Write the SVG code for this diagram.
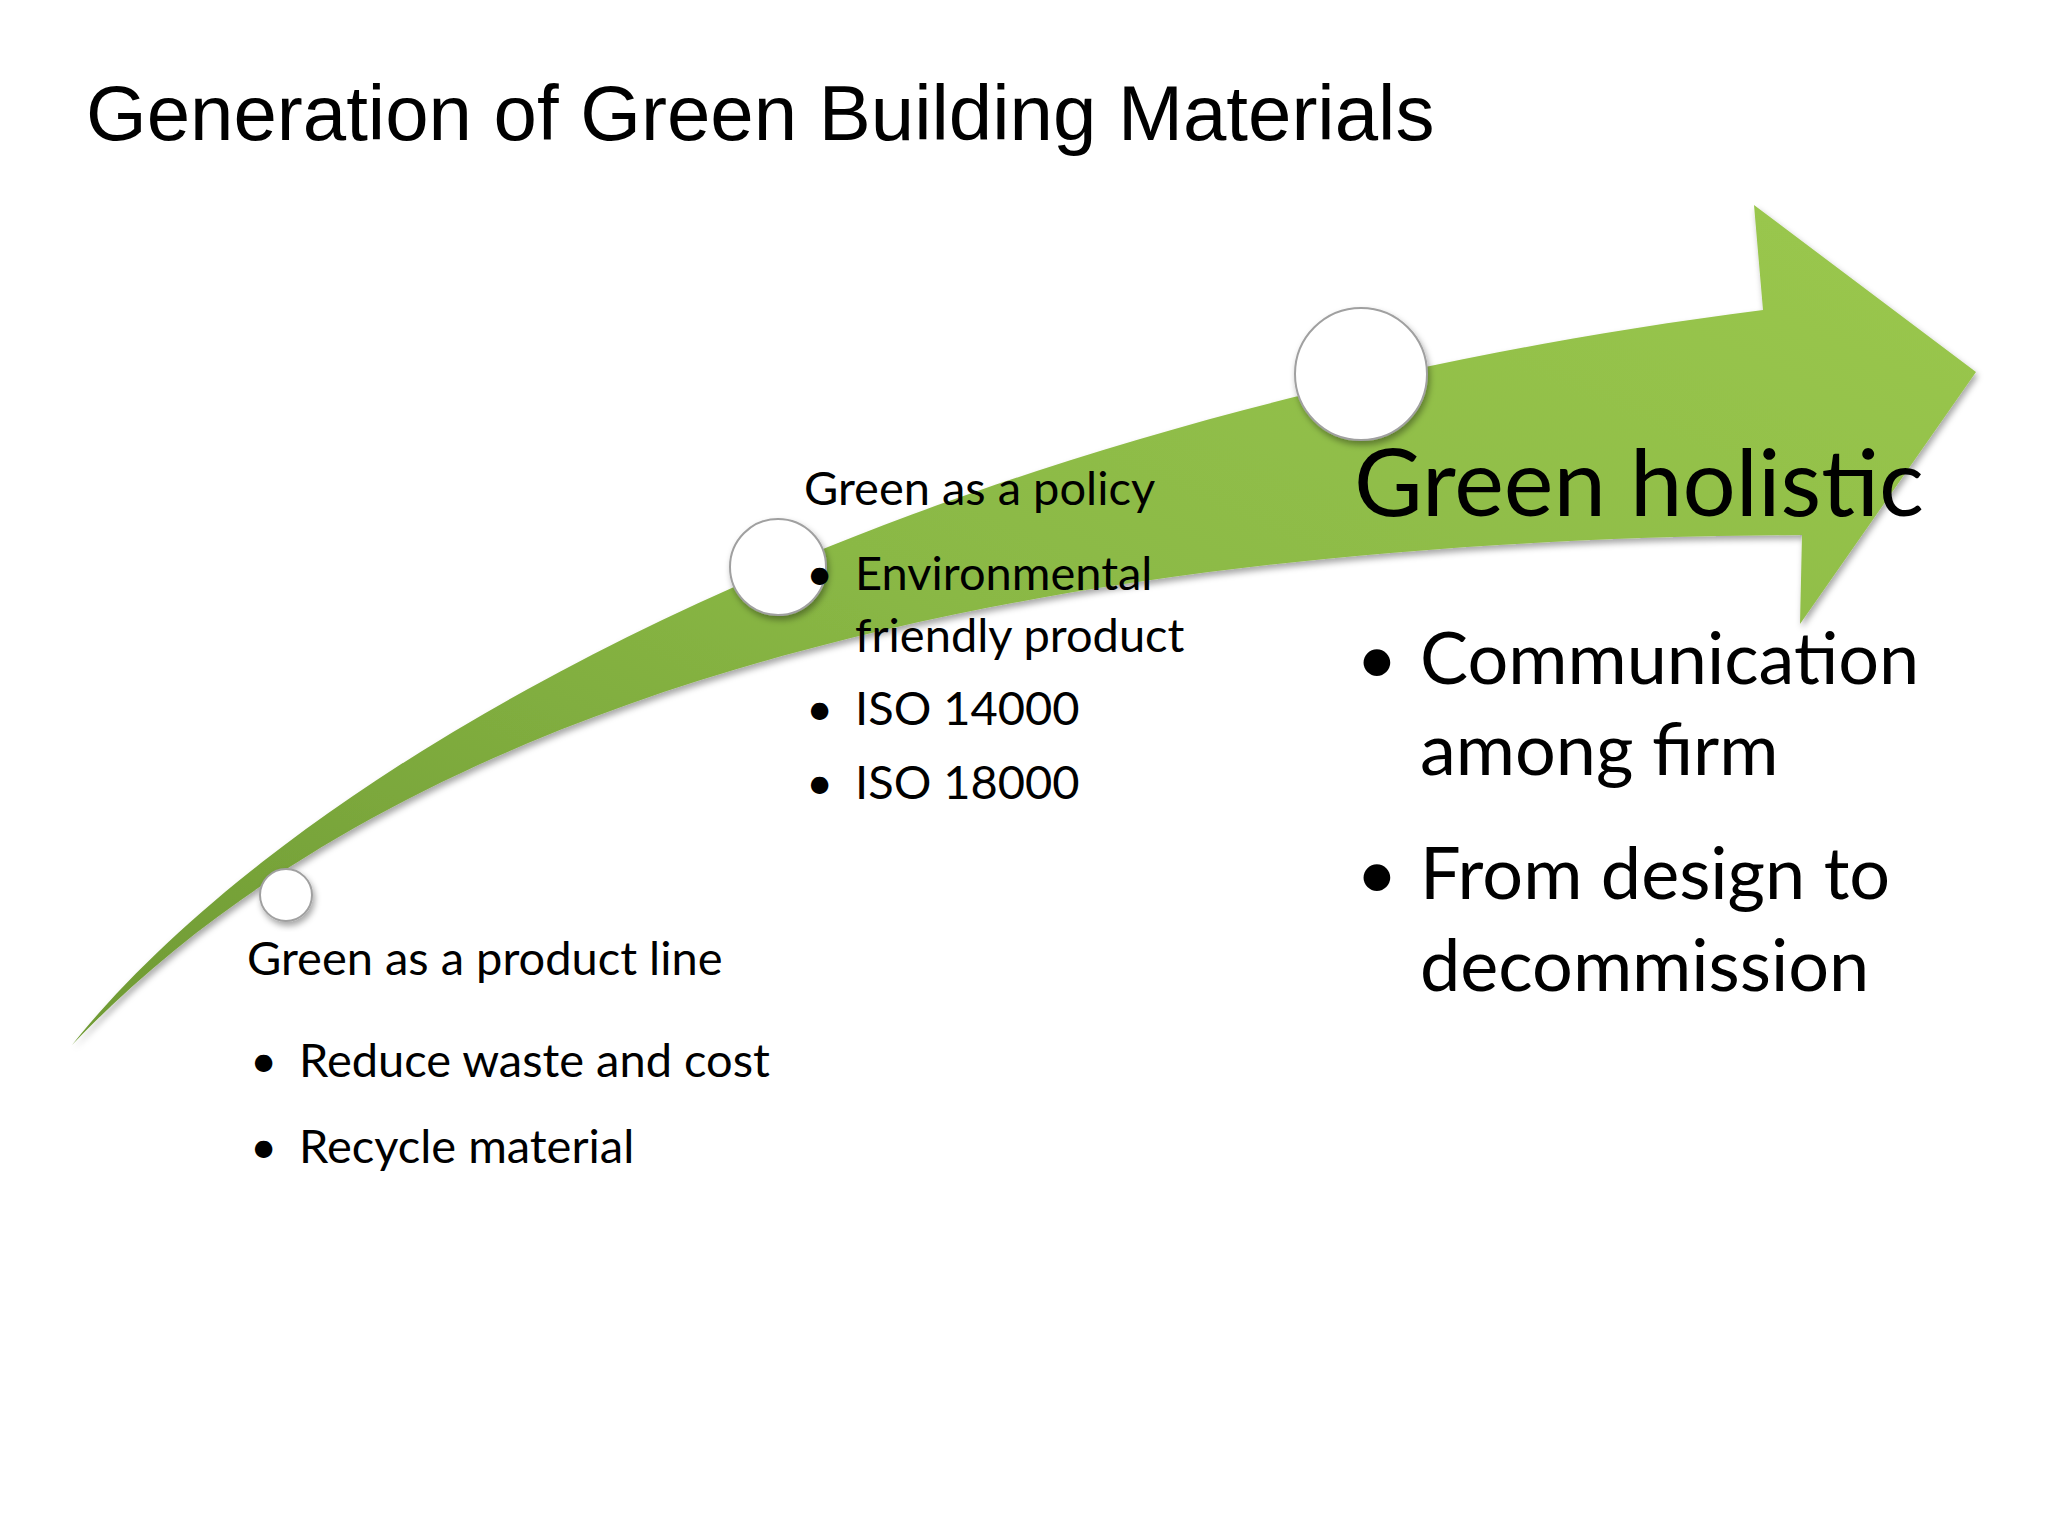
<svg xmlns="http://www.w3.org/2000/svg" width="2048" height="1536" viewBox="0 0 2048 1536">
<defs>
<linearGradient id="g" x1="0" y1="1" x2="1" y2="0"><stop offset="0" stop-color="#6f9a34"/><stop offset="0.5" stop-color="#8ab845"/><stop offset="1" stop-color="#9bc84e"/></linearGradient>
<filter id="sh" x="-20%" y="-20%" width="140%" height="140%"><feDropShadow dx="2" dy="4" stdDeviation="3" flood-opacity="0.35"/></filter>
<style>
.t{font-family:Lato,"Open Sans",sans-serif;fill:#000}
.c{fill:#fff;stroke:#a0a0a0;stroke-width:2;filter:url(#sh)}
</style>
</defs>
<rect width="2048" height="1536" fill="#fff"/>
<text x="86" y="140" font-family="Liberation Sans,Arial,sans-serif" font-size="78" fill="#000">Generation of Green Building Materials</text>
<g id="arrow"><path d="M72,1045 C300,760 900,420 1763,310 L1754,205 L1976,372 L1800,624 L1802,535 C1000,540 400,700 72,1045 Z" fill="url(#g)" filter="url(#sh)"/></g>
<g id="c1"><circle class="c" cx="286" cy="895" r="26"/></g>
<g id="c2"><circle class="c" cx="778" cy="567" r="48"/></g>
<g id="c3"><circle class="c" cx="1361" cy="374" r="66"/></g>
<g id="n1" class="t" font-size="47">
<text class="t" x="247" y="975">Green as a product line</text>
<text class="t" x="250" y="1077">•</text><text class="t" x="299" y="1077">Reduce waste and cost</text>
<text class="t" x="250" y="1163">•</text><text class="t" x="299" y="1163">Recycle material</text>
</g>
<g id="n2" class="t" font-size="47">
<text class="t" x="804" y="505">Green as a policy</text>
<text class="t" x="806" y="590">•</text><text class="t" x="855" y="590">Environmental</text>
<text class="t" x="855" y="652">friendly product</text>
<text class="t" x="806" y="725">•</text><text class="t" x="855" y="725">ISO 14000</text>
<text class="t" x="806" y="799">•</text><text class="t" x="855" y="799">ISO 18000</text>
</g>
<g id="n3" class="t">
<text class="t" x="1354" y="516" font-size="94">Green holistic</text>
<text class="t" x="1356" y="684" font-size="72">•</text><text class="t" x="1420" y="684" font-size="72">Communication</text>
<text class="t" x="1420" y="775" font-size="72">among firm</text>
<text class="t" x="1356" y="899" font-size="72">•</text><text class="t" x="1420" y="899" font-size="72">From design to</text>
<text class="t" x="1420" y="991" font-size="72">decommission</text>
</g>
</svg>
